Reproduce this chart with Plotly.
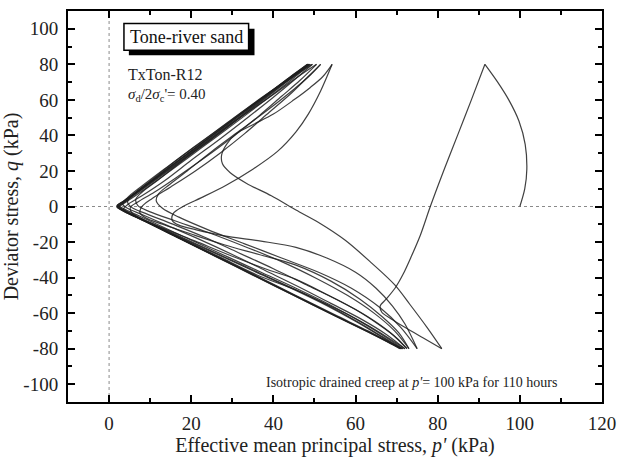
import plotly.graph_objects as go

# ---------------- data: stress path legs (p' [kPa], q [kPa]) ----------------
c1_p = [100, 101.2, 101.7, 101.3, 99.8, 97.3, 94.6, 91.5]
c1_q = [0, 10, 21, 35, 48, 60, 70, 80]

e1_p = [91.5, 88.2, 85, 81.6, 78.2, 75.8, 73.6, 71.6, 69.6, 67.5, 66.0, 66.4, 68.5, 72, 76.5, 81]
e1_q = [80, 60, 41, 21, 0, -16, -28, -38, -46, -52, -56, -59.5, -63, -68, -74, -80]

c2_p = [81, 77.4, 73.2, 69.5, 64, 57.5, 51, 45.5, 39.5, 33.5, 29.5, 27.6, 27.4, 28.6, 31, 35, 40, 45, 49, 52, 54.3]
c2_q = [-80, -68, -55, -44, -32, -19, -9, -2, 6, 13, 19, 24, 29, 35, 41, 46, 52, 60, 67, 73, 80]

e2_p = [54.3, 51.5, 48.5, 45.5, 41, 35, 28.5, 22.5, 18, 15.6, 15.4, 17, 21, 28, 37, 45.5, 53, 60, 65, 69, 72, 75]
e2_q = [80, 65, 52, 42, 31, 21, 12, 5, 0, -4, -8, -10.5, -13, -16.5, -19.5, -23, -29, -37, -46, -56, -66, -80]

c3_p = [75, 71, 66, 59, 51, 42, 33, 24, 17, 13, 11.5, 12, 14.5, 19, 25, 32, 39, 45, 49, 51.5]
c3_q = [-80, -68, -57, -46, -37, -29, -21, -13, -6, -1, 3, 7, 12, 20, 31, 43, 55, 66, 74, 80]

e3_p = [51.5, 48, 44, 39, 33, 27, 21, 15, 10.5, 8, 7.5, 9, 13, 20, 28, 36.5, 45.5, 54, 61, 66.5, 70.5, 73]
e3_q = [80, 72, 63, 53, 41, 30, 20, 11, 4.5, 0, -3.5, -6.5, -10, -15.5, -21.5, -27, -33, -42, -52, -62, -71, -80]

c4_p = [73, 69.5, 64.5, 58, 50.5, 42, 33, 24, 16, 10, 7, 6.5, 8, 12, 18, 25, 32.5, 40, 46, 50.5]
c4_q = [-80, -70, -60, -50, -40.5, -31, -22.5, -14.5, -8, -3, 0.5, 4, 8, 15, 26, 38, 51, 63, 73, 80]

e4_p = [50.5, 46.5, 42, 36.5, 30, 23, 16.5, 11, 7, 5.2, 5.5, 8, 13, 21, 30, 38, 45.5, 53, 60, 66, 70, 72.5]
e4_q = [80, 71, 62, 51, 39, 27, 16.5, 8, 2.5, -0.5, -3.5, -7, -12, -19.5, -28, -35, -41, -49.5, -58, -67, -74, -80]

c5_p = [72.5, 68.5, 63, 56, 48, 40, 31.5, 23, 15, 9, 5.5, 4.5, 5.5, 9, 15, 22, 30, 38, 44.5, 49.5]
c5_q = [-80, -71, -62, -53, -44, -35, -26, -17, -9.5, -4, -0.5, 2.5, 6, 12.5, 23.5, 35.5, 49, 62.5, 72.5, 80]

e5_p = [49.5, 45, 40, 34, 27, 20, 13.5, 8, 4.5, 3.5, 5, 10, 18, 27, 36, 45.5, 53, 60, 66, 72]
e5_q = [80, 71, 61.5, 50.5, 38, 26, 14.5, 6, 1, -1.5, -4, -9.5, -18.5, -28.5, -38.5, -47, -55, -63, -71, -80]

c6_p = [72, 67.5, 61.5, 54, 46, 38, 30, 22, 14, 8, 4.5, 3.3, 4.5, 8, 14, 21, 29, 37, 43.5, 49]
c6_q = [-80, -72, -63.5, -54.5, -45, -36, -27, -18.5, -10.5, -4.5, -1, 1.5, 5, 11.5, 22, 34, 47.5, 61, 71.5, 80]

e6_p = [49, 44.5, 39.5, 33, 26, 19, 12.5, 7, 3.5, 2.4, 4, 9, 17, 26, 35, 45, 55, 63, 68, 71.5]
e6_q = [80, 71.5, 62.5, 51, 39, 27, 16, 7, 1.5, -0.5, -2.8, -8.3, -17.5, -27.8, -38, -49.5, -61, -70, -76, -80]

c7_p = [71.5, 67, 61, 53.5, 45.5, 37, 29, 21, 13.5, 7.5, 3.5, 2.2, 3.5, 8, 15, 22, 30, 38, 44, 48.7]
c7_q = [-80, -73, -64.5, -55, -46, -37, -28.5, -20, -12, -5.5, -1.2, 0.8, 2.8, 10.5, 22.5, 34.5, 48.3, 62, 72.5, 80]

e7_p = [48.7, 44, 39, 32.5, 25.5, 18.5, 12, 6.5, 3.2, 2.1, 3.8, 9, 17, 26, 35, 45, 55, 63, 68, 71.2]
e7_q = [80, 71.5, 62.5, 51, 39, 27, 16, 7, 1.5, -0.3, -2.8, -8.5, -17.7, -28, -38.3, -49.8, -61.3, -70.3, -76.2, -80]

c8_p = [71.2, 66.5, 60.5, 53, 45, 36.5, 28.5, 20.5, 13, 7, 3.2, 2, 3.3, 8, 15, 22, 30, 38, 44, 48.5]
c8_q = [-80, -73.2, -64.8, -55.3, -46.3, -37.3, -28.8, -20.3, -12.3, -5.8, -1.4, 0.6, 2.6, 10.4, 22.6, 34.6, 48.4, 62.2, 72.7, 80]

e8_p = [48.5, 43.8, 38.7, 32.2, 25.2, 18.2, 11.7, 6.3, 3.1, 2.0, 3.7, 9, 17, 26, 35, 45, 55, 63, 68, 71]
e8_q = [80, 71.5, 62.5, 51, 39, 27, 16, 7, 1.5, -0.3, -2.8, -8.6, -17.8, -28.1, -38.5, -50, -61.5, -70.5, -76.4, -80]

c9_p = [71, 66.3, 60.3, 52.8, 44.8, 36.3, 28.3, 20.3, 12.8, 6.8, 3.1, 1.9, 3.2, 8, 15, 22, 30, 38, 44, 48.3]
c9_q = [-80, -73.3, -65, -55.5, -46.5, -37.5, -29, -20.5, -12.5, -6, -1.5, 0.5, 2.5, 10.3, 22.6, 34.7, 48.5, 62.3, 72.8, 80]

e9_p = [48.3, 43.6, 38.5, 32, 25, 18, 11.5, 6.1, 3, 1.9, 3.6, 9, 17, 26, 35, 45, 55, 63, 68, 70.8]
e9_q = [80, 71.5, 62.5, 51, 39, 27, 16, 7, 1.5, -0.3, -2.8, -8.7, -17.9, -28.2, -38.6, -50.1, -61.6, -70.6, -76.5, -80]

x_tickvals = [0, 20, 40, 60, 80, 100, 120]
x_ticktext = ["0", "20", "40", "60", "80", "100", "120"]
x_minor = [-10, 10, 30, 50, 70, 90, 110]
y_tickvals = [-100, -80, -60, -40, -20, 0, 20, 40, 60, 80, 100]
y_ticktext = ["-100", "-80", "-60", "-40", "-20", "0", "20", "40", "60", "80", "100"]
y_minor = [-90, -70, -50, -30, -10, 10, 30, 50, 70, 90]

legs = [(c1_p, c1_q), (e1_p, e1_q), (c2_p, c2_q), (e2_p, e2_q), (c3_p, c3_q), (e3_p, e3_q),
        (c4_p, c4_q), (e4_p, e4_q), (c5_p, c5_q), (e5_p, e5_q), (c6_p, c6_q), (e6_p, e6_q),
        (c7_p, c7_q), (e7_p, e7_q), (c8_p, c8_q), (e8_p, e8_q), (c9_p, c9_q), (e9_p, e9_q)]

SERIF = "Liberation Serif"
fig = go.Figure()
for lp, lq in legs:
    fig.add_trace(go.Scatter(x=lp, y=lq, mode="lines",
                             line=dict(color="rgba(30,30,30,0.85)", width=1.2, shape="spline", smoothing=0.9),
                             showlegend=False, hoverinfo="skip"))

L, R, T, B = 68, 612, 9, 403
def px(x):
    return (x - L) / (R - L)
def py(y):
    return (B - y) / (B - T)

shapes = [
    dict(type="line", xref="x", yref="paper", x0=0, x1=0, y0=0, y1=1,
         line=dict(color="#8a8a8a", width=1, dash="dot"), layer="below"),
    dict(type="line", xref="paper", yref="y", x0=0, x1=1, y0=0, y1=0,
         line=dict(color="#8a8a8a", width=1, dash="dot"), layer="below"),
    dict(type="rect", xref="paper", yref="paper", x0=px(130), x1=px(258), y0=py(53.5), y1=py(27),
         fillcolor="black", line=dict(width=0)),
    dict(type="rect", xref="paper", yref="paper", x0=px(125), x1=px(252), y0=py(48.5), y1=py(21.5),
         fillcolor="white", line=dict(color="black", width=1.5)),
]

annotations = [
    dict(text="Tone-river sand", xref="paper", yref="paper", x=px(188.5), y=py(35),
         xanchor="center", yanchor="middle", showarrow=False, font=dict(family=SERIF, size=18, color="#111")),
    dict(text="TxTon-R12", xref="paper", yref="paper", x=px(127), y=py(73),
         xanchor="left", yanchor="middle", showarrow=False, font=dict(family=SERIF, size=16, color="#222")),
    dict(text="<i>σ</i><sub>d</sub>/2<i>σ</i><sub>c</sub>'= 0.40", xref="paper", yref="paper", x=px(127), y=py(94),
         xanchor="left", yanchor="middle", showarrow=False, font=dict(family=SERIF, size=15, color="#222")),
    dict(text="Isotropic drained creep at <i>p'</i>= 100 kPa for 110 hours", xref="paper", yref="paper",
         x=px(417.5), y=py(383), xanchor="center", yanchor="middle", showarrow=False,
         font=dict(family=SERIF, size=14, color="#222")),
]

axis_common = dict(showgrid=False, zeroline=False, showline=True, linewidth=2, linecolor="black",
                   mirror="allticks", ticks="inside", ticklen=7, tickwidth=1.5, tickcolor="black",
                   ticklabeloverflow="allow",
                   tickfont=dict(family=SERIF, size=19, color="#222"))

fig.update_layout(
    width=625, height=459, autosize=False,
    font=dict(family=SERIF, color="#222"),
    margin=dict(l=L, r=625 - R, t=T, b=459 - B),
    plot_bgcolor="white", paper_bgcolor="white",
    shapes=shapes, annotations=annotations,
    xaxis=dict(range=[-10, 120], tickmode="array", tickvals=x_tickvals, ticktext=x_ticktext,
               minor=dict(tickmode="array", tickvals=x_minor, ticks="inside", ticklen=4, tickwidth=1.5, tickcolor="black"),
               title=dict(text="Effective mean principal stress, <i>p'</i> (kPa)", standoff=2,
                          font=dict(family=SERIF, size=20, color="#222")),
               ticklabelstandoff=3, **axis_common),
    yaxis=dict(range=[-110, 110], tickmode="array", tickvals=y_tickvals, ticktext=y_ticktext,
               minor=dict(tickmode="array", tickvals=y_minor, ticks="inside", ticklen=4, tickwidth=1.5, tickcolor="black"),
               title=dict(text="Deviator stress, <i>q</i> (kPa)", standoff=0,
                          font=dict(family=SERIF, size=20, color="#222")),
               ticklabelstandoff=4, **axis_common),
)

fig.write_html("out.html")
